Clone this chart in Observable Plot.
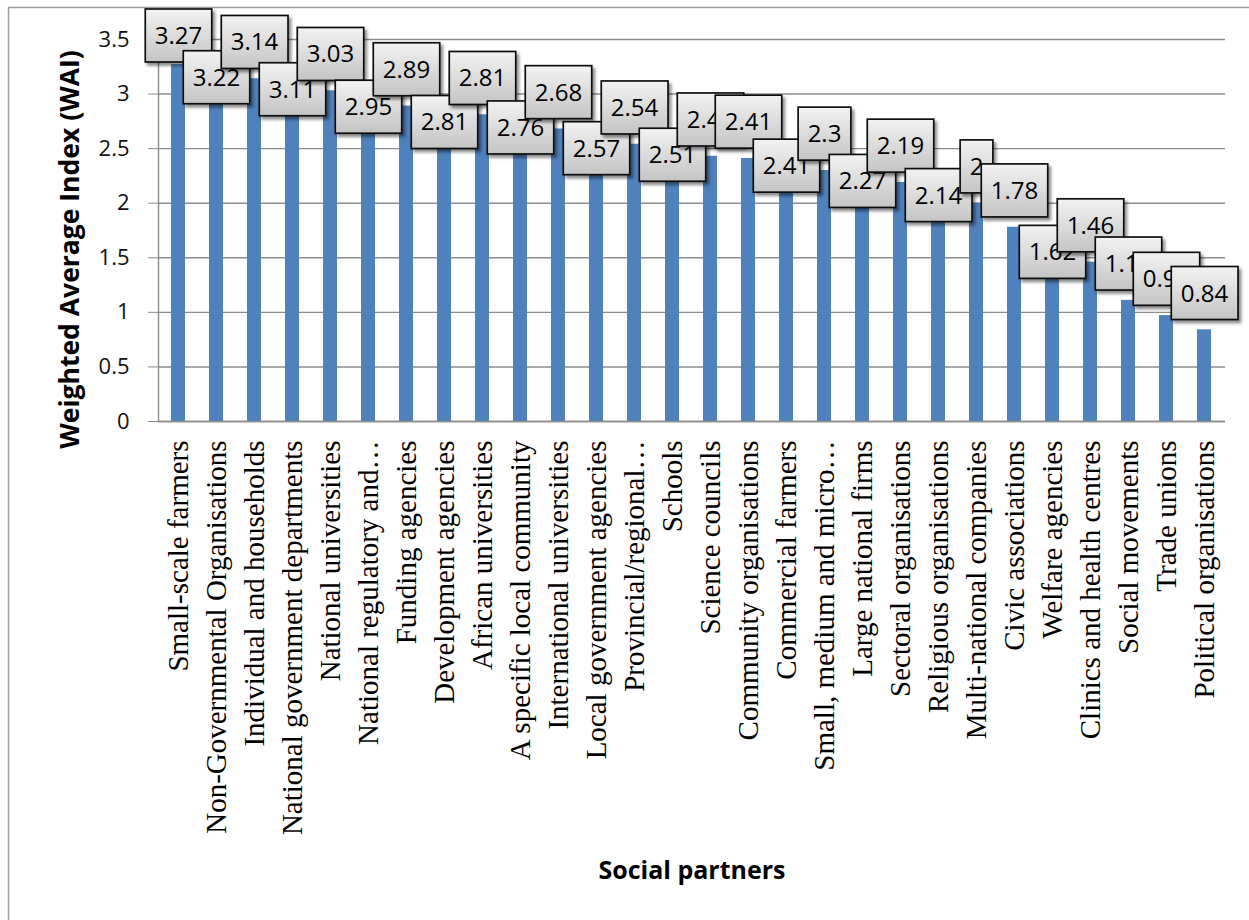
<!DOCTYPE html>
<html><head><meta charset="utf-8">
<script src="https://cdn.jsdelivr.net/npm/d3@7"></script>
<script src="https://cdn.jsdelivr.net/npm/@observablehq/plot@0.6"></script>
<style>body{margin:0;background:#fff} svg{display:block}</style>
</head><body><div id="chart"></div>
<script>
const partners = [
  "Small-scale farmers",
  "Non-Governmental Organisations",
  "Individual and households",
  "National government departments",
  "National universities",
  "National regulatory and…",
  "Funding agencies",
  "Development agencies",
  "African universities",
  "A specific local community",
  "International universities",
  "Local government agencies",
  "Provincial/regional…",
  "Schools",
  "Science councils",
  "Community organisations",
  "Commercial farmers",
  "Small, medium and micro…",
  "Large national firms",
  "Sectoral organisations",
  "Religious organisations",
  "Multi-national companies",
  "Civic associations",
  "Welfare agencies",
  "Clinics and health centres",
  "Social movements",
  "Trade unions",
  "Political organisations"
];
const wai = [3.27, 3.22, 3.14, 3.11, 3.03, 2.95, 2.89, 2.81, 2.81, 2.76, 2.68, 2.57, 2.54, 2.51,
             2.43, 2.41, 2.41, 2.3, 2.27, 2.19, 2.14, 2, 1.78, 1.62, 1.46, 1.11, 0.97, 0.84];
const yTicks = [0, 0.5, 1, 1.5, 2, 2.5, 3, 3.5];
const yTitle = "Weighted Average Index (WAI)";
const xTitle = "Social partners";

const data = partners.map((p, i) => ({partner: p, value: wai[i], label: String(wai[i])}));

const sans = "'Open Sans', 'Noto Sans', sans-serif";
const serif = "'Liberation Serif', 'Times New Roman', serif";

const chart = Plot.plot({
  width: 1249, height: 920,
  marginLeft: 158, marginRight: 24, marginTop: 39, marginBottom: 499,
  style: {background: "#fff", fontFamily: sans, overflow: "visible", color: "#000"},
  x: {domain: partners, paddingInner: 0.63, paddingOuter: 0.315, label: null},
  y: {domain: [0, 3.5], label: null},
  marks: [
    Plot.gridY(yTicks, {stroke: "#8c8c8c", strokeOpacity: 1, strokeWidth: 1.4}),
    Plot.barY(data, {x: "partner", y: "value", fill: "#4f81bd"}),
    Plot.ruleY([0], {stroke: "#8c8c8c", strokeWidth: 1.4}),
    Plot.axisY(yTicks, {tickFormat: d => String(d), fontSize: 22, tickSize: 10, tickPadding: 19,
      stroke: "#8c8c8c", fill: "#111", label: null}),
    Plot.axisX({tickRotate: -90, fontSize: 29, fontFamily: serif, tickSize: 0, tickPadding: 19,
      fill: "#000", label: null}),
    Plot.text([yTitle], {frameAnchor: "left", rotate: -90, dx: -88, dy: 19, fontSize: 26.5,
      textAnchor: "middle", lineAnchor: "middle", fontWeight: "bold", fill: "#000"}),
    Plot.text([xTitle], {frameAnchor: "bottom", dy: 449, fontSize: 25, textAnchor: "middle",
      lineAnchor: "middle", fontWeight: "bold", fill: "#000"}),
    Plot.text(data, {x: "partner", y: "value", text: "label", fontSize: 24, fontFamily: sans,
      fill: "#000"})
  ]
});
document.getElementById("chart").append(chart);

// Excel-style callout boxes around the value labels
const svg = d3.select(chart);
const defs = svg.insert("defs", ":first-child");
const grad = defs.append("linearGradient").attr("id", "cbGrad")
  .attr("x1", 0).attr("y1", 0).attr("x2", 0).attr("y2", 1);
grad.append("stop").attr("offset", "0%").attr("stop-color", "#f3f3f3");
grad.append("stop").attr("offset", "100%").attr("stop-color", "#c4c4c4");
const flt = defs.append("filter").attr("id", "cbShadow")
  .attr("x", "-20%").attr("y", "-20%").attr("width", "150%").attr("height", "160%");
flt.append("feDropShadow").attr("dx", 2.5).attr("dy", 3).attr("stdDeviation", 1.8)
  .attr("flood-color", "#000").attr("flood-opacity", 0.45);

// border of the chart area (top and left edges visible)
svg.append("line").attr("x1", 8.5).attr("x2", 8.5).attr("y1", 7).attr("y2", 920)
  .attr("stroke", "#a0a0a0").attr("stroke-width", 1.5);
svg.append("line").attr("x1", 8).attr("x2", 1249).attr("y1", 7.5).attr("y2", 7.5)
  .attr("stroke", "#a0a0a0").attr("stroke-width", 1.5);
// y axis line
svg.append("line").attr("x1", 158.5).attr("x2", 158.5).attr("y1", 39).attr("y2", 421)
  .attr("stroke", "#8c8c8c").attr("stroke-width", 1.4);

// label placement, mimicking Excel's callout layout (above the bar top or beside it),
// kept inside the chart area
const calloutBelow = new Set([1, 3, 5, 7, 9, 11, 13, 16, 18, 20, 23]);
const textGroups = svg.selectAll('g[aria-label="text"]').nodes();
const g = d3.select(textGroups[textGroups.length - 1]);
g.raise();
const boxTopMin = 9;
g.selectAll("text").nodes().forEach((node, i) => {
  const bb = node.getBBox();
  const m = node.getCTM();
  const w = bb.width + 19, h = 53, cy = bb.y + bb.height / 2 + 1;
  let off = calloutBelow.has(i) ? 8 : -36;
  // absolute top of the box
  const absTop = m.f + m.d * (cy - h / 2) + off;
  if (absTop < boxTopMin) off += boxTopMin - absTop;
  const wrap = document.createElementNS("http://www.w3.org/2000/svg", "g");
  wrap.setAttribute("transform", `translate(0,${off})`);
  node.parentNode.insertBefore(wrap, node);
  const rect = document.createElementNS("http://www.w3.org/2000/svg", "rect");
  rect.setAttribute("x", bb.x + bb.width / 2 - w / 2);
  rect.setAttribute("y", cy - h / 2);
  rect.setAttribute("width", w);
  rect.setAttribute("height", h);
  rect.setAttribute("fill", "url(#cbGrad)");
  rect.setAttribute("stroke", "#111");
  rect.setAttribute("stroke-width", 1.7);
  rect.setAttribute("filter", "url(#cbShadow)");
  if (node.getAttribute("transform")) rect.setAttribute("transform", node.getAttribute("transform"));
  wrap.appendChild(rect);
  wrap.appendChild(node);
});
</script>
</body></html>
